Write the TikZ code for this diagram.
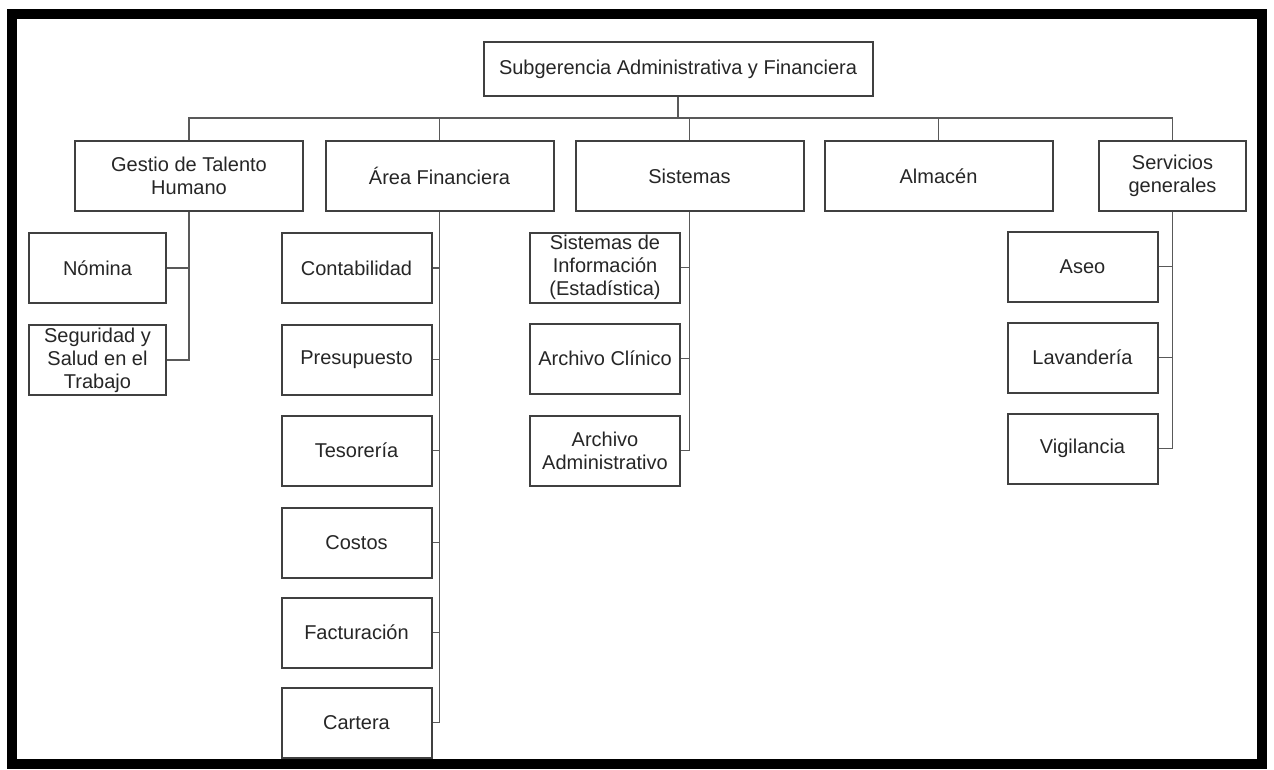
\documentclass[tikz,border=0pt]{standalone}
\usepackage{fontspec}
\setmainfont{Liberation Sans}
\begin{document}
\begin{tikzpicture}[x=0.75pt,y=-0.75pt,
  box/.style={draw=black!75, line width=1.5pt, fill=white, align=center, inner sep=0pt,
    text=black!85, font=\fontsize{15}{17.25}\selectfont},
  rootbox/.style={box, minimum width=291.75pt, minimum height=40.5pt},
  lvlbox/.style={box, minimum width=171pt, minimum height=52.5pt},
  servbox/.style={box, minimum width=110.25pt, minimum height=52.5pt},
  kidA/.style={box, minimum width=102.75pt, minimum height=52.5pt},
  kidB/.style={box, minimum width=112.5pt, minimum height=52.5pt},
  link/.style={draw=black!65, line width=1.2pt}
]
\useasboundingbox (0,0) rectangle (1274,769);
\fill[white] (0,0) rectangle (1274,769);
\draw[line width=7.5pt] (12,14) rectangle (1262,764);

% root
\node[rootbox] (root) at (678,69) {Subgerencia Administrativa y Financiera};

% level 1
\node[lvlbox] (gth) at (189,176) {Gestio de Talento\\Humano};
\node[lvlbox] (af) at (439.5,176) {Área Financiera};
\node[lvlbox] (sis) at (689.5,176) {Sistemas};
\node[lvlbox] (alm) at (938.5,176) {Almacén};
\node[servbox] (sg) at (1172.5,175.5) {Servicios\\generales};

\coordinate (bus) at (678,118);
\draw[link] (root.south) -- (bus);
\draw[link] (gth.north) |- (bus) -| (sg.north);
\draw[link] (af.north) -- (af.north |- bus);
\draw[link] (sis.north) -- (sis.north |- bus);
\draw[link] (alm.north) -- (alm.north |- bus);

% Gestion children
\node[kidA] (nom) at (97.5,268) {Nómina};
\node[kidA] (seg) at (97.5,360) {Seguridad y\\Salud en el\\Trabajo};
\draw[link] (gth.south) |- (seg.east);
\draw[link] (nom.east) -- (nom.east -| gth.south);

% Area Financiera children
\node[kidB] (con) at (356.5,268) {Contabilidad};
\node[kidB] (pre) at (356.5,359.5) {Presupuesto};
\node[kidB] (tes) at (356.5,450.5) {Tesorería};
\node[kidB] (cos) at (356.5,542.5) {Costos};
\node[kidB] (fac) at (356.5,632.5) {Facturación};
\node[kidB] (car) at (356.5,722.5) {Cartera};
\draw[link] (af.south) |- (car.east);
\foreach \k in {con,pre,tes,cos,fac}
  \draw[link] (\k.east) -- (\k.east -| af.south);

% Sistemas children
\node[kidB] (sinf) at (605,267.5) {Sistemas de\\Información\\(Estadística)};
\node[kidB] (acl) at (605,358.5) {Archivo Clínico};
\node[kidB] (aad) at (605,450.5) {Archivo\\Administrativo};
\draw[link] (sis.south) |- (aad.east);
\foreach \k in {sinf,acl}
  \draw[link] (\k.east) -- (\k.east -| sis.south);

% Servicios generales children
\node[kidB] (ase) at (1082.5,266.5) {Aseo};
\node[kidB] (lav) at (1082.5,357.5) {Lavandería};
\node[kidB] (vig) at (1082.5,448.5) {Vigilancia};
\draw[link] (sg.south) |- (vig.east);
\foreach \k in {ase,lav}
  \draw[link] (\k.east) -- (\k.east -| sg.south);
\end{tikzpicture}
\end{document}
